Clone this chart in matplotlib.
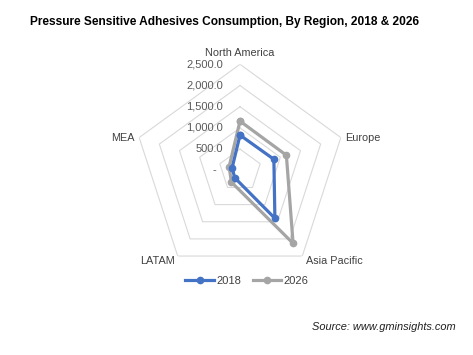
import numpy as np
import matplotlib
matplotlib.use("Agg")
import matplotlib.pyplot as plt
from matplotlib import transforms

plt.rcParams['font.family'] = ['Liberation Sans', 'DejaVu Sans']

# data
regions = ['North America', 'Europe', 'Asia Pacific', 'LATAM', 'MEA']
values_2018 = [830, 840, 1400, 215, 195]
values_2026 = [1160, 1150, 2130, 345, 270]
ticks = [0, 500, 1000, 1500, 2000, 2500]
tick_labels = ['-', '500.0', '1,000.0', '1,500.0', '2,000.0', '2,500.0']

fig = plt.figure(figsize=(4.73, 3.55), dpi=100)
fig.patch.set_facecolor('white')

# radar centre / radius in pixels of the reference
cx, cy, rad = 240 / 473, 1 - 170.3 / 355, 106
w, h = rad / 473, rad / 355
ax = fig.add_axes([cx - w, cy - h, 2 * w, 2 * h], projection='polar')
ax.set_theta_zero_location('N')
ax.set_theta_direction(-1)
ax.set_ylim(0, 2500)
ax.grid(False)
ax.spines['polar'].set_visible(False)
ax.set_xticks([])
ax.set_yticks([])

n = len(regions)
theta = np.linspace(0, 2 * np.pi, n, endpoint=False)
theta_c = np.append(theta, theta[0])

# pentagon gridlines
for t in ticks[1:]:
    ax.plot(theta_c, [t] * (n + 1), color='#d9d9d9', lw=0.8, zorder=1)

# tick labels left of the vertical axis
for t, lab in zip(ticks, tick_labels):
    dx = -24 if lab == '-' else -17
    off = transforms.offset_copy(ax.transData, fig=fig, x=dx, y=0, units='dots')
    ax.text(0, t, lab, transform=off, ha='right', va='center', fontsize=8, color='#595959')

# category labels
lab_pos = [(0, 6, 'center', 'bottom'), (4, 0, 'left', 'center'),
           (4, -5, 'left', 'center'), (-3, -5, 'right', 'center'),
           (-5, 0, 'right', 'center')]
for th, name, (dx, dy, ha, va) in zip(theta, regions, lab_pos):
    tr = transforms.offset_copy(ax.transData, fig=fig, x=dx, y=dy, units='dots')
    ax.text(th, 2500, name, transform=tr, ha=ha, va=va, fontsize=7.8, color='#404040')

ax.plot(theta_c, values_2026 + values_2026[:1], color='#a5a5a5', lw=2.3,
        marker='o', ms=4.5, label='2026', zorder=3)
ax.plot(theta_c, values_2018 + values_2018[:1], color='#4472c4', lw=2.3,
        marker='o', ms=4.5, label='2018', zorder=4)

handles, labels = ax.get_legend_handles_labels()
fig.legend(handles[::-1], labels[::-1], loc='center', bbox_to_anchor=(247 / 473, 1 - 281 / 355),
           ncol=2, frameon=False, fontsize=8, handlelength=2.6, handletextpad=0.2,
           columnspacing=1.0, labelcolor='#404040')

fig.text(30 / 473, 1 - 22 / 355, 'Pressure Sensitive Adhesives Consumption, By Region, 2018 & 2026',
         fontsize=8.55, fontweight='bold', ha='left', va='center', color='black')
fig.text(456 / 473, 1 - 327 / 355, 'Source: www.gminsights.com', fontsize=7.9,
         style='italic', ha='right', va='center', color='#1f1f1f')

fig.savefig('out.png', dpi=100)
